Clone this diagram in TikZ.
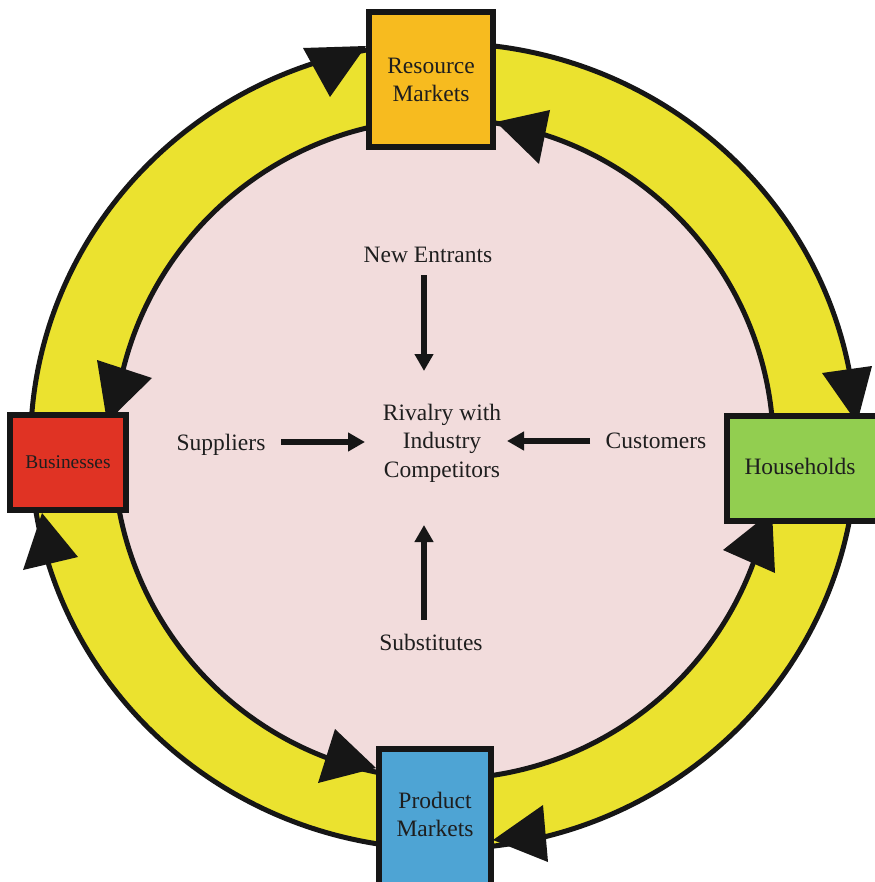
\documentclass[tikz,border=0pt]{standalone}
\usepackage{fontspec}
\setmainfont{Liberation Serif}
\usetikzlibrary{arrows.meta}
\definecolor{ringY}{RGB}{235,226,47}
\definecolor{pinkC}{RGB}{242,220,220}
\definecolor{orangeC}{RGB}{247,187,31}
\definecolor{redC}{RGB}{224,51,36}
\definecolor{greenC}{RGB}{146,206,80}
\definecolor{blueC}{RGB}{78,164,212}
\definecolor{lineK}{RGB}{22,22,22}
\definecolor{txtK}{RGB}{30,30,30}
\begin{document}
\begin{tikzpicture}[x=1pt,y=-1pt,
  ring/.style={line width=5pt, draw=lineK},
  box/.style={draw=lineK, line width=6pt, inner sep=0pt},
  lbl/.style={font=\fontsize{23.5}{28}\selectfont, text=txtK, align=center, inner sep=0pt},
  arr/.style={line width=5.5pt, draw=lineK, -{Triangle[length=17pt,width=18pt]}},
  head/.style={fill=lineK}]
\useasboundingbox (0,0) rectangle (874,882);
\fill[white] (0,0) rectangle (874,882);
% ring and inner disc
\filldraw[ring, fill=ringY] (443.5,446) ellipse [x radius=413, y radius=403];
\filldraw[ring, fill=pinkC] (443.5,449) circle [radius=330];
% arrowheads on the ring
\fill[head] (303,48) -- (366,46) -- (330,97) -- cycle;
\fill[head] (496,122) -- (550,110) -- (539,164) -- cycle;
\fill[head] (822,373) -- (872,366) -- (857,423) -- cycle;
\fill[head] (772,511) -- (723,550) -- (775,573) -- cycle;
\fill[head] (493,840) -- (543,805) -- (548,862) -- cycle;
\fill[head] (376,768) -- (335,729) -- (318,783) -- cycle;
\fill[head] (97,360) -- (152,378) -- (107,422) -- cycle;
\fill[head] (42,513) -- (23,570) -- (78,557) -- cycle;
% boxes
\node (rm) [box, fill=orangeC, minimum width=124pt, minimum height=135pt, lbl] at (431,79.5) {Resource\\Markets};
\node (bu) [box, fill=redC, minimum width=116pt, minimum height=95pt, lbl, font=\fontsize{19.4}{24}\selectfont] at (68,462.5) {Businesses};
\node (hh) [box, fill=greenC, minimum width=153pt, minimum height=105pt] at (803.5,468.5) {};
\node (hht) [lbl, anchor=base] at (800,474) {Households};
\node (pm) [box, fill=blueC, minimum width=112pt, minimum height=141pt] at (435,819.5) {};
\node (pmt) [lbl] at (435,814) {Product\\Markets};
% inner forces
\node (ne) [lbl, anchor=base] at (428,262.3) {New Entrants};
\node (rv) [lbl, font=\fontsize{23.5}{28.5}\selectfont] at (442,443) {Rivalry with\\Industry\\Competitors};
\node (sp) [lbl, anchor=base] at (221,450.7) {Suppliers};
\node (cu) [lbl, anchor=base] at (656,448.3) {Customers};
\node (sb) [lbl, anchor=base] at (431,650.7) {Substitutes};
\coordinate (a1) at (424,275);
\coordinate (a2) at (424,371);
\coordinate (b1) at (424,620);
\coordinate (b2) at (424,525);
\coordinate (c1) at (281,442);
\coordinate (c2) at (365,442);
\coordinate (d1) at (590,441);
\coordinate (d2) at (507,441);
\draw[arr] (a1) -- (a2);
\draw[arr] (b1) -- (b2);
\draw[arr] (c1) -- (c2);
\draw[arr] (d1) -- (d2);
\end{tikzpicture}
\end{document}
